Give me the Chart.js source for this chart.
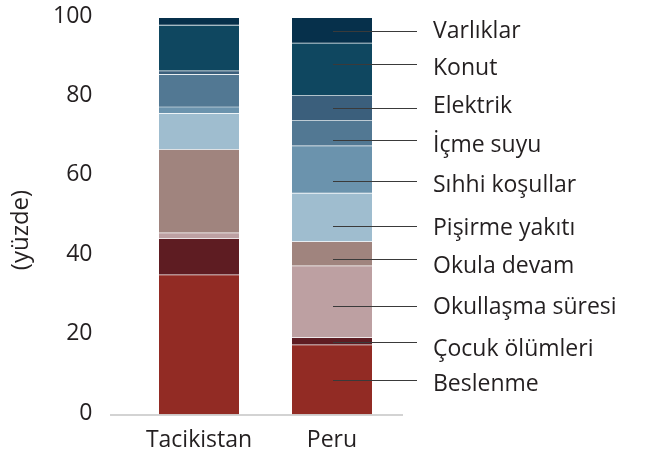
<!DOCTYPE html>
<html>
<head>
<meta charset="utf-8">
<script src="https://cdn.jsdelivr.net/npm/chart.js@4/dist/chart.umd.min.js"></script>
<style>
  html, body { margin: 0; padding: 0; background: #fff; }
  #wrap { width: 662px; height: 452px; }
</style>
</head>
<body>
<div id="wrap"><canvas id="c" width="662" height="452"></canvas></div>
<script>
// ---- Data ----
const categories = ['Tacikistan', 'Peru'];
const seriesNames = ['Beslenme', 'Çocuk ölümleri', 'Okullaşma süresi', 'Okula devam', 'Pişirme yakıtı',
                     'Sıhhi koşullar', 'İçme suyu', 'Elektrik', 'Konut', 'Varlıklar'];
const beslenme   = [35.2, 17.6];
const cocuk      = [9.2, 1.8];
const okullasma  = [1.4, 18.1];
const okula      = [21.0, 6.1];
const pisirme    = [9.1, 12.2];
const sihhi      = [1.6, 11.9];
const icme       = [8.2, 6.4];
const elektrik   = [0.9, 6.3];
const konut      = [11.5, 13.2];
const varliklar  = [1.9, 6.4];
const seriesValues = [beslenme, cocuk, okullasma, okula, pisirme, sihhi, icme, elektrik, konut, varliklar];
const seriesColors = ['#922b24', '#5e1c22', '#bda0a2', '#a0847e', '#9fbdcf',
                      '#6b93ad', '#527893', '#3b5f7c', '#0f4760', '#06304b'];
// y (in %) of each leader line and of each right-hand label
const leaderValues = [8.8, 18.5, 27.5, 39.3, 47.6, 58.9, 69.3, 77.3, 88.4, 96.7];
const labelValues  = [8.1, 17.1, 27.5, 37.8, 47.6, 58.4, 68.3, 78.1, 87.7, 97.0];
const yTicks = [0, 20, 40, 60, 80, 100];
const yTitle = '(yüzde)';

const FONT = "'Open Sans', sans-serif";
const TXT = '#231f20';

const annotate = {
  id: 'annotate',
  afterDraw(chart) {
    const ctx = chart.ctx, ca = chart.chartArea, y = chart.scales.y;
    const xs = chart.scales.x;
    ctx.save();
    // baseline
    ctx.strokeStyle = '#c4c4c4';
    ctx.lineWidth = 1.5;
    ctx.beginPath();
    ctx.moveTo(ca.left - 22.5, y.getPixelForValue(0));
    ctx.lineTo(ca.right + 4.5, y.getPixelForValue(0));
    ctx.stroke();
    // leader lines + labels for Peru
    const px = xs.getPixelForValue(1);
    ctx.lineWidth = 1.2;
    ctx.font = '23px ' + FONT;
    ctx.textAlign = 'left';
    ctx.textBaseline = 'middle';
    seriesNames.forEach((name, i) => {
      const ly = Math.round(y.getPixelForValue(leaderValues[i])) + 0.5;
      ctx.strokeStyle = '#3a3a3a';
      ctx.beginPath();
      ctx.moveTo(px + 1, ly);
      ctx.lineTo(ca.right + 18.5, ly);
      ctx.stroke();
      ctx.fillStyle = TXT;
      ctx.fillText(name, ca.right + 34.5, y.getPixelForValue(labelValues[i]) + 2);
    });
    // y title
    ctx.translate(21, 230);
    ctx.rotate(-Math.PI / 2);
    ctx.textAlign = 'center';
    ctx.font = '24px ' + FONT;
    ctx.fillText(yTitle, 0, 0);
    ctx.restore();
  }
};

new Chart(document.getElementById('c'), {
  type: 'bar',
  data: {
    labels: categories,
    datasets: seriesValues.map((vals, i) => ({
      label: seriesNames[i],
      data: vals,
      backgroundColor: seriesColors[i],
      borderColor: '#ffffff',
      borderWidth: { top: 0, left: 0, right: 0, bottom: 1 },
      borderSkipped: false,
      barThickness: 80
    }))
  },
  options: {
    responsive: false,
    maintainAspectRatio: false,
    animation: false,
    devicePixelRatio: 1,
    layout: { padding: { left: 0, right: 263.5, top: 18, bottom: 0 } },
    plugins: { legend: { display: false }, tooltip: { enabled: false }, title: { display: false } },
    scales: {
      x: {
        stacked: true,
        grid: { display: false, drawTicks: false },
        border: { display: false },
        ticks: { font: { family: FONT, size: 23 }, color: TXT, padding: 12, maxRotation: 0 },
        afterFit(s) { s.height = 37; s.paddingLeft = 0; s.paddingRight = 0; s.paddingTop = 0; s.paddingBottom = 0; }
      },
      y: {
        stacked: true,
        min: 0, max: 100,
        afterBuildTicks(s) { s.ticks = yTicks.map(v => ({ value: v })); },
        grid: { display: false, drawTicks: false },
        border: { display: false },
        ticks: { font: { family: FONT, size: 23 }, color: TXT, padding: 40, labelOffset: -2 },
        afterFit(s) { s.width = 132.5; s.paddingTop = 0; s.paddingBottom = 0; s.paddingLeft = 0; s.paddingRight = 0; }
      }
    }
  },
  plugins: [annotate]
});
</script>
</body>
</html>
